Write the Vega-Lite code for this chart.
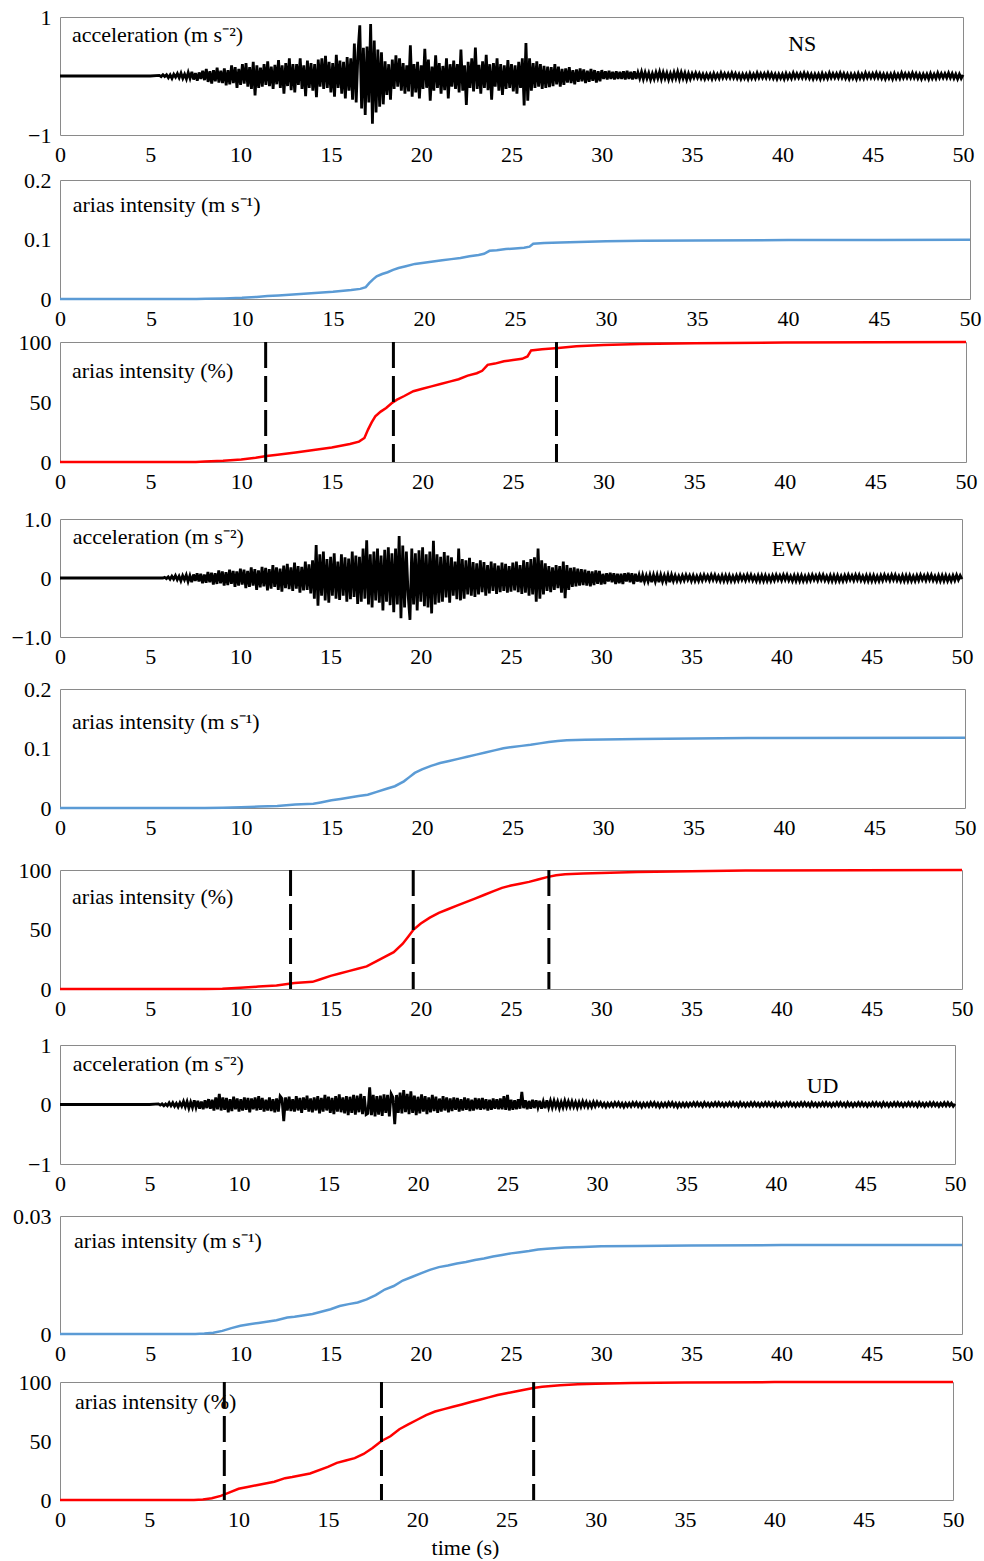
{
"$schema":"https://vega.github.io/schema/vega-lite/v6.json",
"background":"white",
"padding":{"left":0,"top":5,"right":0,"bottom":0},
"spacing":0,
"config":{
"view":{"stroke":"#8a8a8a","strokeWidth":1},
"font":"Liberation Serif",
"style":{"guide-label":{"font":"Liberation Serif"},"guide-title":{"font":"Liberation Serif"}},
"axis":{"labelFont":"Liberation Serif","labelFontSize":22,"labelColor":"black","grid":false,"domain":false,"ticks":false,"tickSize":0,"labelPadding":9,"titleFont":"Liberation Serif","titleFontSize":22,"titleFontWeight":"normal","titleColor":"black","labelFlush":false,"labelOverlap":false},
"text":{"font":"Liberation Serif","fontSize":22,"color":"black"}
},
"datasets":{
"acc":[
{"t":0,"n":0,"e":0,"u":0},{"t":5.0,"n":0,"e":0,"u":0},
{"t":5.5,"n":0.01,"e":0,"u":0.01},{"t":5.6,"n":-0.01,"e":0,"u":-0.01},{"t":5.7,"n":0.02,"e":0,"u":0.01},{"t":5.8,"n":-0.01,"e":0.01,"u":-0.02},{"t":5.9,"n":0.02,"e":-0.01,"u":0.01},
{"t":6.0,"n":-0.03,"e":0.02,"u":-0.02},{"t":6.1,"n":0.02,"e":-0.02,"u":0.03},{"t":6.2,"n":-0.04,"e":0.03,"u":-0.02},{"t":6.3,"n":0.03,"e":-0.02,"u":0.03},{"t":6.4,"n":-0.02,"e":0.04,"u":-0.03},{"t":6.5,"n":0.04,"e":-0.03,"u":0.02},{"t":6.6,"n":-0.03,"e":0.03,"u":-0.04},{"t":6.7,"n":0.05,"e":-0.05,"u":0.03},{"t":6.8,"n":-0.04,"e":0.04,"u":-0.03},{"t":6.9,"n":0.03,"e":-0.03,"u":0.05},
{"t":7.0,"n":-0.05,"e":0.05,"u":-0.04},{"t":7.1,"n":0.06,"e":-0.06,"u":0.05},{"t":7.2,"n":-0.04,"e":0.04,"u":-0.06},{"t":7.3,"n":0.07,"e":-0.07,"u":0.04},{"t":7.4,"n":-0.06,"e":0.06,"u":-0.05},{"t":7.5,"n":0.05,"e":-0.05,"u":0.07},{"t":7.6,"n":-0.08,"e":0.08,"u":-0.05},{"t":7.7,"n":0.06,"e":-0.06,"u":0.06},{"t":7.8,"n":-0.05,"e":0.07,"u":-0.07},{"t":7.9,"n":0.09,"e":-0.09,"u":0.05},
{"t":8.0,"n":-0.07,"e":0.06,"u":-0.08},{"t":8.1,"n":0.12,"e":-0.08,"u":0.07},{"t":8.2,"n":-0.1,"e":0.1,"u":-0.06},{"t":8.3,"n":0.08,"e":-0.07,"u":0.09},{"t":8.4,"n":-0.13,"e":0.09,"u":-0.07},{"t":8.5,"n":0.1,"e":-0.11,"u":0.08},{"t":8.6,"n":-0.09,"e":0.08,"u":-0.1},{"t":8.7,"n":0.14,"e":-0.1,"u":0.12},{"t":8.8,"n":-0.11,"e":0.13,"u":-0.08},{"t":8.9,"n":0.09,"e":-0.09,"u":0.18},
{"t":9.0,"n":-0.12,"e":0.11,"u":-0.1},{"t":9.1,"n":0.13,"e":-0.13,"u":0.12},{"t":9.2,"n":-0.16,"e":0.1,"u":-0.09},{"t":9.3,"n":0.1,"e":-0.12,"u":0.11},{"t":9.4,"n":-0.14,"e":0.14,"u":-0.13},{"t":9.5,"n":0.18,"e":-0.1,"u":0.09},{"t":9.6,"n":-0.12,"e":0.12,"u":-0.11},{"t":9.7,"n":0.15,"e":-0.15,"u":0.13},{"t":9.8,"n":-0.2,"e":0.11,"u":-0.08},{"t":9.9,"n":0.12,"e":-0.13,"u":0.1},
{"t":10.0,"n":-0.15,"e":0.16,"u":-0.12},{"t":10.1,"n":0.2,"e":-0.11,"u":0.09},{"t":10.2,"n":-0.13,"e":0.14,"u":-0.1},{"t":10.3,"n":0.22,"e":-0.17,"u":0.12},{"t":10.4,"n":-0.18,"e":0.12,"u":-0.09},{"t":10.5,"n":0.15,"e":-0.15,"u":0.11},{"t":10.6,"n":-0.22,"e":0.18,"u":-0.13},{"t":10.7,"n":0.24,"e":-0.13,"u":0.1},{"t":10.8,"n":-0.33,"e":0.15,"u":-0.08},{"t":10.9,"n":0.18,"e":-0.2,"u":0.12},
{"t":11.0,"n":-0.2,"e":0.13,"u":-0.1},{"t":11.1,"n":0.14,"e":-0.16,"u":0.14},{"t":11.2,"n":-0.18,"e":0.19,"u":-0.09},{"t":11.3,"n":0.2,"e":-0.14,"u":0.11},{"t":11.4,"n":-0.15,"e":0.17,"u":-0.12},{"t":11.5,"n":0.25,"e":-0.21,"u":0.08},{"t":11.6,"n":-0.17,"e":0.15,"u":-0.1},{"t":11.7,"n":0.16,"e":-0.18,"u":0.12},{"t":11.8,"n":-0.22,"e":0.22,"u":-0.11},{"t":11.9,"n":0.19,"e":-0.15,"u":0.09},
{"t":12.0,"n":-0.14,"e":0.18,"u":-0.13},{"t":12.1,"n":0.27,"e":-0.2,"u":0.1},{"t":12.2,"n":-0.2,"e":0.16,"u":-0.12},{"t":12.3,"n":0.18,"e":-0.23,"u":0.14},{"t":12.4,"n":-0.3,"e":0.21,"u":0.1},{"t":12.5,"n":0.22,"e":-0.17,"u":-0.28},{"t":12.6,"n":-0.17,"e":0.24,"u":0.12},{"t":12.7,"n":0.3,"e":-0.19,"u":-0.1},{"t":12.8,"n":-0.24,"e":0.18,"u":0.13},{"t":12.9,"n":0.2,"e":-0.22,"u":-0.11},
{"t":13.0,"n":-0.28,"e":0.26,"u":0.09},{"t":13.1,"n":0.2,"e":-0.18,"u":-0.12},{"t":13.2,"n":-0.15,"e":0.2,"u":0.14},{"t":13.3,"n":0.3,"e":-0.25,"u":-0.1},{"t":13.4,"n":-0.22,"e":0.19,"u":0.11},{"t":13.5,"n":0.18,"e":-0.21,"u":-0.14},{"t":13.6,"n":-0.34,"e":0.28,"u":0.12},{"t":13.7,"n":0.26,"e":-0.2,"u":-0.09},{"t":13.8,"n":-0.2,"e":0.23,"u":0.15},{"t":13.9,"n":0.22,"e":-0.26,"u":-0.12},
{"t":14.0,"n":-0.25,"e":0.3,"u":0.1},{"t":14.1,"n":0.2,"e":-0.35,"u":-0.13},{"t":14.2,"n":-0.36,"e":0.56,"u":0.12},{"t":14.3,"n":0.28,"e":-0.47,"u":-0.1},{"t":14.4,"n":-0.18,"e":0.4,"u":0.14},{"t":14.5,"n":0.3,"e":-0.3,"u":-0.15},{"t":14.6,"n":-0.22,"e":0.45,"u":0.11},{"t":14.7,"n":0.34,"e":-0.38,"u":-0.12},{"t":14.8,"n":-0.2,"e":0.32,"u":0.16},{"t":14.9,"n":0.24,"e":-0.42,"u":-0.1},
{"t":15.0,"n":-0.28,"e":0.36,"u":0.13},{"t":15.1,"n":0.22,"e":-0.3,"u":-0.14},{"t":15.2,"n":-0.35,"e":0.42,"u":0.11},{"t":15.3,"n":0.36,"e":-0.35,"u":-0.16},{"t":15.4,"n":-0.2,"e":0.28,"u":0.14},{"t":15.5,"n":0.26,"e":-0.37,"u":-0.12},{"t":15.6,"n":-0.3,"e":0.4,"u":0.17},{"t":15.7,"n":0.24,"e":-0.3,"u":-0.13},{"t":15.8,"n":-0.38,"e":0.35,"u":0.12},{"t":15.9,"n":0.32,"e":-0.4,"u":-0.15},
{"t":16.0,"n":-0.25,"e":0.33,"u":0.14},{"t":16.1,"n":0.3,"e":-0.36,"u":-0.18},{"t":16.2,"n":-0.4,"e":0.45,"u":0.13},{"t":16.3,"n":0.55,"e":-0.32,"u":-0.14},{"t":16.4,"n":-0.45,"e":0.38,"u":0.16},{"t":16.5,"n":0.4,"e":-0.44,"u":-0.17},{"t":16.6,"n":0.86,"e":0.36,"u":0.15},{"t":16.7,"n":-0.55,"e":-0.4,"u":-0.13},{"t":16.8,"n":0.48,"e":0.5,"u":0.18},{"t":16.9,"n":-0.66,"e":-0.35,"u":-0.16},
{"t":17.0,"n":0.5,"e":0.64,"u":0.14},{"t":17.1,"n":-0.45,"e":-0.45,"u":-0.17},{"t":17.2,"n":0.88,"e":0.4,"u":-0.15},{"t":17.3,"n":-0.81,"e":-0.5,"u":0.29},{"t":17.4,"n":0.6,"e":0.45,"u":-0.18},{"t":17.5,"n":-0.62,"e":-0.38,"u":0.16},{"t":17.6,"n":0.45,"e":0.5,"u":-0.2},{"t":17.7,"n":-0.52,"e":-0.42,"u":0.14},{"t":17.8,"n":0.4,"e":0.38,"u":-0.17},{"t":17.9,"n":-0.48,"e":-0.55,"u":0.15},
{"t":18.0,"n":0.25,"e":0.48,"u":-0.19},{"t":18.1,"n":-0.32,"e":-0.4,"u":0.17},{"t":18.2,"n":0.2,"e":0.52,"u":-0.14},{"t":18.3,"n":-0.4,"e":-0.46,"u":0.16},{"t":18.4,"n":0.28,"e":0.42,"u":-0.2},{"t":18.5,"n":-0.22,"e":-0.58,"u":0.18},{"t":18.6,"n":0.35,"e":0.5,"u":0.12},{"t":18.7,"n":-0.18,"e":-0.45,"u":-0.33},{"t":18.8,"n":0.3,"e":0.71,"u":0.16},{"t":18.9,"n":-0.25,"e":-0.68,"u":-0.14},
{"t":19.0,"n":0.22,"e":0.55,"u":0.2},{"t":19.1,"n":-0.3,"e":-0.5,"u":-0.15},{"t":19.2,"n":0.18,"e":0.45,"u":0.24},{"t":19.3,"n":-0.26,"e":-0.3,"u":-0.13},{"t":19.4,"n":0.52,"e":-0.71,"u":0.18},{"t":19.5,"n":-0.35,"e":0.5,"u":-0.16},{"t":19.6,"n":0.2,"e":-0.45,"u":0.22},{"t":19.7,"n":-0.28,"e":0.42,"u":-0.14},{"t":19.8,"n":0.24,"e":-0.55,"u":0.15},{"t":19.9,"n":-0.38,"e":0.47,"u":-0.18},
{"t":20.0,"n":0.18,"e":-0.4,"u":0.13},{"t":20.1,"n":-0.22,"e":0.52,"u":-0.15},{"t":20.2,"n":0.46,"e":-0.48,"u":0.17},{"t":20.3,"n":-0.2,"e":0.4,"u":-0.12},{"t":20.4,"n":0.28,"e":-0.5,"u":0.14},{"t":20.5,"n":-0.42,"e":0.45,"u":-0.16},{"t":20.6,"n":0.16,"e":-0.6,"u":0.12},{"t":20.7,"n":-0.25,"e":0.63,"u":-0.13},{"t":20.8,"n":0.35,"e":-0.45,"u":0.16},{"t":20.9,"n":-0.2,"e":0.4,"u":-0.11},
{"t":21.0,"n":0.22,"e":-0.42,"u":0.13},{"t":21.1,"n":-0.3,"e":0.36,"u":-0.14},{"t":21.2,"n":0.17,"e":-0.4,"u":0.1},{"t":21.3,"n":-0.24,"e":0.44,"u":-0.12},{"t":21.4,"n":0.3,"e":-0.33,"u":0.14},{"t":21.5,"n":-0.38,"e":0.38,"u":-0.1},{"t":21.6,"n":0.2,"e":-0.42,"u":0.12},{"t":21.7,"n":-0.18,"e":0.35,"u":-0.13},{"t":21.8,"n":0.26,"e":-0.3,"u":0.1},{"t":21.9,"n":-0.22,"e":0.28,"u":-0.11},
{"t":22.0,"n":0.2,"e":-0.36,"u":0.12},{"t":22.1,"n":-0.28,"e":0.5,"u":-0.09},{"t":22.2,"n":0.45,"e":-0.38,"u":0.11},{"t":22.3,"n":-0.25,"e":0.32,"u":-0.12},{"t":22.4,"n":0.18,"e":-0.35,"u":0.09},{"t":22.5,"n":-0.49,"e":0.3,"u":-0.1},{"t":22.6,"n":0.24,"e":-0.28,"u":0.12},{"t":22.7,"n":-0.2,"e":0.34,"u":-0.09},{"t":22.8,"n":0.3,"e":-0.3,"u":0.1},{"t":22.9,"n":-0.26,"e":0.27,"u":-0.11},
{"t":23.0,"n":0.48,"e":-0.32,"u":0.08},{"t":23.1,"n":-0.22,"e":0.25,"u":-0.1},{"t":23.2,"n":0.19,"e":-0.28,"u":0.11},{"t":23.3,"n":-0.3,"e":0.3,"u":-0.08},{"t":23.4,"n":0.25,"e":-0.24,"u":0.1},{"t":23.5,"n":-0.2,"e":0.27,"u":-0.09},{"t":23.6,"n":0.36,"e":-0.3,"u":0.11},{"t":23.7,"n":-0.24,"e":0.22,"u":-0.08},{"t":23.8,"n":0.2,"e":-0.26,"u":0.09},{"t":23.9,"n":-0.4,"e":0.28,"u":-0.1},
{"t":24.0,"n":0.22,"e":-0.22,"u":0.08},{"t":24.1,"n":-0.18,"e":0.25,"u":-0.09},{"t":24.2,"n":0.3,"e":-0.27,"u":0.1},{"t":24.3,"n":-0.25,"e":0.21,"u":-0.07},{"t":24.4,"n":0.2,"e":-0.24,"u":0.09},{"t":24.5,"n":-0.32,"e":0.26,"u":-0.08},{"t":24.6,"n":0.18,"e":-0.22,"u":0.1},{"t":24.7,"n":-0.22,"e":0.24,"u":-0.08},{"t":24.8,"n":0.27,"e":-0.25,"u":0.14},{"t":24.9,"n":-0.2,"e":0.2,"u":-0.09},
{"t":25.0,"n":0.2,"e":-0.23,"u":0.16},{"t":25.1,"n":-0.26,"e":0.26,"u":-0.1},{"t":25.2,"n":0.18,"e":-0.21,"u":0.08},{"t":25.3,"n":-0.3,"e":0.28,"u":-0.09},{"t":25.4,"n":0.24,"e":-0.24,"u":0.07},{"t":25.5,"n":-0.2,"e":0.22,"u":-0.08},{"t":25.6,"n":0.3,"e":-0.27,"u":0.09},{"t":25.7,"n":-0.5,"e":0.3,"u":-0.07},{"t":25.8,"n":0.56,"e":-0.25,"u":0.21},{"t":25.9,"n":-0.42,"e":0.27,"u":-0.06},
{"t":26.0,"n":0.3,"e":-0.3,"u":0.07},{"t":26.1,"n":-0.25,"e":0.32,"u":-0.08},{"t":26.2,"n":0.22,"e":-0.28,"u":0.06},{"t":26.3,"n":-0.2,"e":0.35,"u":-0.07},{"t":26.4,"n":0.25,"e":-0.4,"u":0.08},{"t":26.5,"n":-0.18,"e":0.5,"u":-0.06},{"t":26.6,"n":0.2,"e":-0.35,"u":0.07},{"t":26.7,"n":-0.22,"e":0.3,"u":-0.05},{"t":26.8,"n":0.17,"e":-0.28,"u":0.06},{"t":26.9,"n":-0.2,"e":0.25,"u":-0.07},
{"t":27.0,"n":0.16,"e":-0.22,"u":0.05},{"t":27.1,"n":-0.19,"e":0.2,"u":-0.06},{"t":27.2,"n":0.15,"e":-0.24,"u":0.07},{"t":27.3,"n":-0.17,"e":0.18,"u":-0.05},{"t":27.4,"n":0.2,"e":-0.2,"u":0.06},{"t":27.5,"n":-0.14,"e":0.22,"u":-0.05},{"t":27.6,"n":0.16,"e":-0.17,"u":0.06},{"t":27.7,"n":-0.18,"e":0.2,"u":-0.04},{"t":27.8,"n":0.12,"e":-0.25,"u":0.05},{"t":27.9,"n":-0.15,"e":0.28,"u":-0.06},
{"t":28.0,"n":0.13,"e":-0.34,"u":0.04},{"t":28.1,"n":-0.11,"e":0.22,"u":-0.05},{"t":28.2,"n":0.15,"e":-0.2,"u":0.06},{"t":28.3,"n":-0.12,"e":0.17,"u":-0.04},{"t":28.4,"n":0.1,"e":-0.15,"u":0.05},{"t":28.5,"n":-0.14,"e":0.18,"u":-0.04},{"t":28.6,"n":0.11,"e":-0.14,"u":0.05},{"t":28.7,"n":-0.1,"e":0.16,"u":-0.04},{"t":28.8,"n":0.13,"e":-0.13,"u":0.04},{"t":28.9,"n":-0.09,"e":0.15,"u":-0.05},
{"t":29.0,"n":0.11,"e":-0.12,"u":0.04},{"t":29.1,"n":-0.12,"e":0.14,"u":-0.04},{"t":29.2,"n":0.09,"e":-0.13,"u":0.05},{"t":29.3,"n":-0.1,"e":0.12,"u":-0.03},{"t":29.4,"n":0.12,"e":-0.14,"u":0.04},{"t":29.5,"n":-0.08,"e":0.11,"u":-0.04},{"t":29.6,"n":0.1,"e":-0.12,"u":0.03},{"t":29.7,"n":-0.11,"e":0.13,"u":-0.04},{"t":29.8,"n":0.08,"e":-0.1,"u":0.04},{"t":29.9,"n":-0.09,"e":0.12,"u":-0.03},
{"t":30.0,"n":0.1,"e":-0.11,"u":0.04},{"t":30.1,"n":-0.05,"e":0.07,"u":-0.02},{"t":30.2,"n":0.08,"e":-0.1,"u":0.03},{"t":30.3,"n":-0.06,"e":0.08,"u":-0.03},{"t":30.4,"n":0.09,"e":-0.06,"u":0.02},{"t":30.5,"n":-0.05,"e":0.09,"u":-0.04},{"t":30.6,"n":0.07,"e":-0.07,"u":0.02},{"t":30.7,"n":-0.06,"e":0.08,"u":-0.03},{"t":30.8,"n":0.08,"e":-0.1,"u":0.02},{"t":30.9,"n":-0.05,"e":0.07,"u":-0.03},
{"t":31.0,"n":0.07,"e":-0.09,"u":0.03},{"t":31.1,"n":-0.05,"e":0.07,"u":-0.02},{"t":31.2,"n":0.08,"e":-0.1,"u":0.03},{"t":31.3,"n":-0.06,"e":0.08,"u":-0.03},{"t":31.4,"n":0.09,"e":-0.06,"u":0.02},{"t":31.5,"n":-0.05,"e":0.09,"u":-0.04},{"t":31.6,"n":0.07,"e":-0.07,"u":0.02},{"t":31.7,"n":-0.06,"e":0.08,"u":-0.03},{"t":31.8,"n":0.08,"e":-0.1,"u":0.02},{"t":31.9,"n":-0.05,"e":0.07,"u":-0.03},
{"t":32.0,"n":0.06,"e":-0.06,"u":0.03},{"t":32.1,"n":-0.04,"e":0.05,"u":-0.02},{"t":32.2,"n":0.07,"e":-0.07,"u":0.03},{"t":32.3,"n":-0.05,"e":0.05,"u":-0.03},{"t":32.4,"n":0.06,"e":-0.06,"u":0.02},{"t":32.5,"n":-0.04,"e":0.04,"u":-0.04},{"t":32.6,"n":0.05,"e":-0.06,"u":0.02},{"t":32.7,"n":-0.06,"e":0.05,"u":-0.03},{"t":32.8,"n":0.04,"e":-0.07,"u":0.02},{"t":32.9,"n":-0.05,"e":0.05,"u":-0.03},
{"t":33.0,"n":0.06,"e":-0.06,"u":0.03},{"t":33.1,"n":-0.04,"e":0.05,"u":-0.02},{"t":33.2,"n":0.07,"e":-0.07,"u":0.03},{"t":33.3,"n":-0.05,"e":0.05,"u":-0.03},{"t":33.4,"n":0.06,"e":-0.06,"u":0.02},{"t":33.5,"n":-0.04,"e":0.04,"u":-0.04},{"t":33.6,"n":0.05,"e":-0.06,"u":0.02},{"t":33.7,"n":-0.06,"e":0.05,"u":-0.03},{"t":33.8,"n":0.04,"e":-0.07,"u":0.02},{"t":33.9,"n":-0.05,"e":0.05,"u":-0.03},
{"t":34.0,"n":0.06,"e":-0.05,"u":0.03},{"t":34.1,"n":-0.04,"e":0.04,"u":-0.02},{"t":34.2,"n":0.07,"e":-0.05,"u":0.03},{"t":34.3,"n":-0.05,"e":0.03,"u":-0.03},{"t":34.4,"n":0.06,"e":-0.05,"u":0.02},{"t":34.5,"n":-0.04,"e":0.04,"u":-0.04},{"t":34.6,"n":0.05,"e":-0.04,"u":0.02},{"t":34.7,"n":-0.06,"e":0.05,"u":-0.03},{"t":34.8,"n":0.04,"e":-0.03,"u":0.02},{"t":34.9,"n":-0.05,"e":0.04,"u":-0.03},
{"t":35.0,"n":0.04,"e":-0.05,"u":0.02},{"t":35.1,"n":-0.03,"e":0.04,"u":-0.03},{"t":35.2,"n":0.05,"e":-0.05,"u":0.02},{"t":35.3,"n":-0.03,"e":0.03,"u":-0.02},{"t":35.4,"n":0.04,"e":-0.05,"u":0.03},{"t":35.5,"n":-0.04,"e":0.04,"u":-0.02},{"t":35.6,"n":0.03,"e":-0.04,"u":0.03},{"t":35.7,"n":-0.05,"e":0.05,"u":-0.02},{"t":35.8,"n":0.03,"e":-0.03,"u":0.02},{"t":35.9,"n":-0.04,"e":0.04,"u":-0.03},
{"t":36.0,"n":0.03,"e":-0.04,"u":0.03},{"t":36.1,"n":-0.05,"e":0.05,"u":-0.02},{"t":36.2,"n":0.04,"e":-0.03,"u":0.02},{"t":36.3,"n":-0.04,"e":0.05,"u":-0.03},{"t":36.4,"n":0.03,"e":-0.04,"u":0.02},{"t":36.5,"n":-0.04,"e":0.03,"u":-0.02},{"t":36.6,"n":0.05,"e":-0.05,"u":0.03},{"t":36.7,"n":-0.03,"e":0.04,"u":-0.02},{"t":36.8,"n":0.04,"e":-0.05,"u":0.03},{"t":36.9,"n":-0.03,"e":0.04,"u":-0.02},
{"t":37.0,"n":0.04,"e":-0.05,"u":0.02},{"t":37.1,"n":-0.03,"e":0.04,"u":-0.03},{"t":37.2,"n":0.05,"e":-0.05,"u":0.02},{"t":37.3,"n":-0.03,"e":0.03,"u":-0.02},{"t":37.4,"n":0.04,"e":-0.05,"u":0.03},{"t":37.5,"n":-0.04,"e":0.04,"u":-0.02},{"t":37.6,"n":0.03,"e":-0.04,"u":0.03},{"t":37.7,"n":-0.05,"e":0.05,"u":-0.02},{"t":37.8,"n":0.03,"e":-0.03,"u":0.02},{"t":37.9,"n":-0.04,"e":0.04,"u":-0.03},
{"t":38.0,"n":0.03,"e":-0.04,"u":0.03},{"t":38.1,"n":-0.05,"e":0.05,"u":-0.02},{"t":38.2,"n":0.04,"e":-0.03,"u":0.02},{"t":38.3,"n":-0.04,"e":0.05,"u":-0.03},{"t":38.4,"n":0.03,"e":-0.04,"u":0.02},{"t":38.5,"n":-0.04,"e":0.03,"u":-0.02},{"t":38.6,"n":0.05,"e":-0.05,"u":0.03},{"t":38.7,"n":-0.03,"e":0.04,"u":-0.02},{"t":38.8,"n":0.04,"e":-0.05,"u":0.03},{"t":38.9,"n":-0.03,"e":0.04,"u":-0.02},
{"t":39.0,"n":0.04,"e":-0.05,"u":0.02},{"t":39.1,"n":-0.03,"e":0.04,"u":-0.03},{"t":39.2,"n":0.05,"e":-0.05,"u":0.02},{"t":39.3,"n":-0.03,"e":0.03,"u":-0.02},{"t":39.4,"n":0.04,"e":-0.05,"u":0.03},{"t":39.5,"n":-0.04,"e":0.04,"u":-0.02},{"t":39.6,"n":0.03,"e":-0.04,"u":0.03},{"t":39.7,"n":-0.05,"e":0.05,"u":-0.02},{"t":39.8,"n":0.03,"e":-0.03,"u":0.02},{"t":39.9,"n":-0.04,"e":0.04,"u":-0.03},
{"t":40.0,"n":0.03,"e":-0.04,"u":0.03},{"t":40.1,"n":-0.05,"e":0.05,"u":-0.02},{"t":40.2,"n":0.04,"e":-0.03,"u":0.02},{"t":40.3,"n":-0.04,"e":0.05,"u":-0.03},{"t":40.4,"n":0.03,"e":-0.04,"u":0.02},{"t":40.5,"n":-0.04,"e":0.03,"u":-0.02},{"t":40.6,"n":0.05,"e":-0.05,"u":0.03},{"t":40.7,"n":-0.03,"e":0.04,"u":-0.02},{"t":40.8,"n":0.04,"e":-0.05,"u":0.03},{"t":40.9,"n":-0.03,"e":0.04,"u":-0.02},
{"t":41.0,"n":0.04,"e":-0.05,"u":0.02},{"t":41.1,"n":-0.03,"e":0.04,"u":-0.03},{"t":41.2,"n":0.05,"e":-0.05,"u":0.02},{"t":41.3,"n":-0.03,"e":0.03,"u":-0.02},{"t":41.4,"n":0.04,"e":-0.05,"u":0.03},{"t":41.5,"n":-0.04,"e":0.04,"u":-0.02},{"t":41.6,"n":0.03,"e":-0.04,"u":0.03},{"t":41.7,"n":-0.05,"e":0.05,"u":-0.02},{"t":41.8,"n":0.03,"e":-0.03,"u":0.02},{"t":41.9,"n":-0.04,"e":0.04,"u":-0.03},
{"t":42.0,"n":0.03,"e":-0.04,"u":0.03},{"t":42.1,"n":-0.05,"e":0.05,"u":-0.02},{"t":42.2,"n":0.04,"e":-0.03,"u":0.02},{"t":42.3,"n":-0.04,"e":0.05,"u":-0.03},{"t":42.4,"n":0.03,"e":-0.04,"u":0.02},{"t":42.5,"n":-0.04,"e":0.03,"u":-0.02},{"t":42.6,"n":0.05,"e":-0.05,"u":0.03},{"t":42.7,"n":-0.03,"e":0.04,"u":-0.02},{"t":42.8,"n":0.04,"e":-0.05,"u":0.03},{"t":42.9,"n":-0.03,"e":0.04,"u":-0.02},
{"t":43.0,"n":0.04,"e":-0.05,"u":0.02},{"t":43.1,"n":-0.03,"e":0.04,"u":-0.03},{"t":43.2,"n":0.05,"e":-0.05,"u":0.02},{"t":43.3,"n":-0.03,"e":0.03,"u":-0.02},{"t":43.4,"n":0.04,"e":-0.05,"u":0.03},{"t":43.5,"n":-0.04,"e":0.04,"u":-0.02},{"t":43.6,"n":0.03,"e":-0.04,"u":0.03},{"t":43.7,"n":-0.05,"e":0.05,"u":-0.02},{"t":43.8,"n":0.03,"e":-0.03,"u":0.02},{"t":43.9,"n":-0.04,"e":0.04,"u":-0.03},
{"t":44.0,"n":0.03,"e":-0.04,"u":0.03},{"t":44.1,"n":-0.05,"e":0.05,"u":-0.02},{"t":44.2,"n":0.04,"e":-0.03,"u":0.02},{"t":44.3,"n":-0.04,"e":0.05,"u":-0.03},{"t":44.4,"n":0.03,"e":-0.04,"u":0.02},{"t":44.5,"n":-0.04,"e":0.03,"u":-0.02},{"t":44.6,"n":0.05,"e":-0.05,"u":0.03},{"t":44.7,"n":-0.03,"e":0.04,"u":-0.02},{"t":44.8,"n":0.04,"e":-0.05,"u":0.03},{"t":44.9,"n":-0.03,"e":0.04,"u":-0.02},
{"t":45.0,"n":0.04,"e":-0.05,"u":0.02},{"t":45.1,"n":-0.03,"e":0.04,"u":-0.03},{"t":45.2,"n":0.05,"e":-0.05,"u":0.02},{"t":45.3,"n":-0.03,"e":0.03,"u":-0.02},{"t":45.4,"n":0.04,"e":-0.05,"u":0.03},{"t":45.5,"n":-0.04,"e":0.04,"u":-0.02},{"t":45.6,"n":0.03,"e":-0.04,"u":0.03},{"t":45.7,"n":-0.05,"e":0.05,"u":-0.02},{"t":45.8,"n":0.03,"e":-0.03,"u":0.02},{"t":45.9,"n":-0.04,"e":0.04,"u":-0.03},
{"t":46.0,"n":0.03,"e":-0.04,"u":0.03},{"t":46.1,"n":-0.05,"e":0.05,"u":-0.02},{"t":46.2,"n":0.04,"e":-0.03,"u":0.02},{"t":46.3,"n":-0.04,"e":0.05,"u":-0.03},{"t":46.4,"n":0.03,"e":-0.04,"u":0.02},{"t":46.5,"n":-0.04,"e":0.03,"u":-0.02},{"t":46.6,"n":0.05,"e":-0.05,"u":0.03},{"t":46.7,"n":-0.03,"e":0.04,"u":-0.02},{"t":46.8,"n":0.04,"e":-0.05,"u":0.03},{"t":46.9,"n":-0.03,"e":0.04,"u":-0.02},
{"t":47.0,"n":0.04,"e":-0.05,"u":0.02},{"t":47.1,"n":-0.03,"e":0.04,"u":-0.03},{"t":47.2,"n":0.05,"e":-0.05,"u":0.02},{"t":47.3,"n":-0.03,"e":0.03,"u":-0.02},{"t":47.4,"n":0.04,"e":-0.05,"u":0.03},{"t":47.5,"n":-0.04,"e":0.04,"u":-0.02},{"t":47.6,"n":0.03,"e":-0.04,"u":0.03},{"t":47.7,"n":-0.05,"e":0.05,"u":-0.02},{"t":47.8,"n":0.03,"e":-0.03,"u":0.02},{"t":47.9,"n":-0.04,"e":0.04,"u":-0.03},
{"t":48.0,"n":0.03,"e":-0.04,"u":0.03},{"t":48.1,"n":-0.05,"e":0.05,"u":-0.02},{"t":48.2,"n":0.04,"e":-0.03,"u":0.02},{"t":48.3,"n":-0.04,"e":0.05,"u":-0.03},{"t":48.4,"n":0.03,"e":-0.04,"u":0.02},{"t":48.5,"n":-0.04,"e":0.03,"u":-0.02},{"t":48.6,"n":0.05,"e":-0.05,"u":0.03},{"t":48.7,"n":-0.03,"e":0.04,"u":-0.02},{"t":48.8,"n":0.04,"e":-0.05,"u":0.03},{"t":48.9,"n":-0.03,"e":0.04,"u":-0.02},
{"t":49.0,"n":0.04,"e":-0.05,"u":0.02},{"t":49.1,"n":-0.03,"e":0.04,"u":-0.03},{"t":49.2,"n":0.05,"e":-0.05,"u":0.02},{"t":49.3,"n":-0.03,"e":0.03,"u":-0.02},{"t":49.4,"n":0.04,"e":-0.05,"u":0.03},{"t":49.5,"n":-0.04,"e":0.04,"u":-0.02},{"t":49.6,"n":0.03,"e":-0.04,"u":0.03},{"t":49.7,"n":-0.05,"e":0.05,"u":-0.02},{"t":49.8,"n":0.03,"e":-0.03,"u":0.02},{"t":49.9,"n":-0.04,"e":0.04,"u":-0.03},
{"t":50.0,"n":0.02,"e":-0.02,"u":0.01}
],
"ns":[
{"t":0,"v":0,"p":0},{"t":7.5,"v":0,"p":0},{"t":8,"v":0.0005,"p":0.5},{"t":9,"v":0.001,"p":1},{"t":10,"v":0.002,"p":2},{"t":10.8,"v":0.0035,"p":3.5},{"t":11.4,"v":0.005,"p":5},{"t":12,"v":0.006,"p":6},{"t":13,"v":0.008,"p":8},{"t":14,"v":0.01,"p":10},{"t":15,"v":0.012,"p":12},{"t":16,"v":0.015,"p":15},{"t":16.5,"v":0.017,"p":17},{"t":16.8,"v":0.02,"p":20},{"t":17.0,"v":0.027,"p":27},{"t":17.2,"v":0.033,"p":33},{"t":17.4,"v":0.038,"p":38},{"t":17.7,"v":0.042,"p":42},{"t":18.0,"v":0.045,"p":45},{"t":18.3,"v":0.049,"p":49},{"t":18.6,"v":0.052,"p":52},{"t":19.0,"v":0.055,"p":55},{"t":19.5,"v":0.059,"p":59},{"t":20.0,"v":0.061,"p":61},{"t":20.5,"v":0.063,"p":63},{"t":21.0,"v":0.065,"p":65},{"t":21.5,"v":0.067,"p":67},{"t":22.0,"v":0.069,"p":69},{"t":22.5,"v":0.072,"p":72},{"t":23.0,"v":0.074,"p":74},{"t":23.3,"v":0.076,"p":76},{"t":23.6,"v":0.081,"p":81},{"t":24.0,"v":0.082,"p":82},{"t":24.5,"v":0.084,"p":84},{"t":25.0,"v":0.085,"p":85},{"t":25.5,"v":0.086,"p":86},{"t":25.8,"v":0.088,"p":88},{"t":26.0,"v":0.093,"p":93},{"t":26.6,"v":0.094,"p":94},{"t":27.5,"v":0.095,"p":95},{"t":28.5,"v":0.096,"p":96.5},{"t":30,"v":0.097,"p":97.5},{"t":32,"v":0.098,"p":98.3},{"t":35,"v":0.0985,"p":99},{"t":40,"v":0.099,"p":99.5},{"t":45,"v":0.0993,"p":99.8},{"t":50,"v":0.0995,"p":100}
],
"ew":[
{"t":0,"v":0,"p":0},{"t":8,"v":0,"p":0},{"t":9,"v":0.0004,"p":0.3},{"t":10,"v":0.0012,"p":1},{"t":11,"v":0.0024,"p":2},{"t":12,"v":0.0035,"p":3},{"t":13,"v":0.0059,"p":5},{"t":14,"v":0.0071,"p":6},{"t":14.4,"v":0.0094,"p":8},{"t":15,"v":0.013,"p":11},{"t":15.5,"v":0.0153,"p":13},{"t":16,"v":0.0177,"p":15},{"t":16.5,"v":0.0201,"p":17},{"t":17,"v":0.0224,"p":19},{"t":17.5,"v":0.0271,"p":23},{"t":18,"v":0.0319,"p":27},{"t":18.5,"v":0.0366,"p":31},{"t":19,"v":0.0448,"p":38},{"t":19.3,"v":0.0519,"p":44},{"t":19.6,"v":0.059,"p":50},{"t":20,"v":0.0649,"p":55},{"t":20.5,"v":0.0708,"p":60},{"t":21,"v":0.0755,"p":64},{"t":21.5,"v":0.0791,"p":67},{"t":22,"v":0.0826,"p":70},{"t":22.5,"v":0.0861,"p":73},{"t":23,"v":0.0897,"p":76},{"t":23.5,"v":0.0932,"p":79},{"t":24,"v":0.0968,"p":82},{"t":24.5,"v":0.1003,"p":85},{"t":25,"v":0.1027,"p":87},{"t":25.5,"v":0.1044,"p":88.5},{"t":26,"v":0.1062,"p":90},{"t":26.5,"v":0.1086,"p":92},{"t":27,"v":0.1109,"p":94},{"t":27.5,"v":0.1127,"p":95.5},{"t":28,"v":0.1139,"p":96.5},{"t":29,"v":0.1145,"p":97},{"t":30,"v":0.1151,"p":97.5},{"t":32,"v":0.116,"p":98.3},{"t":35,"v":0.1168,"p":99},{"t":38,"v":0.1175,"p":99.6},{"t":50,"v":0.118,"p":100}
],
"ud":[
{"t":0,"v":0,"p":0},{"t":7.5,"v":0,"p":0},{"t":8,"v":0.0001,"p":0.5},{"t":8.5,"v":0.0003,"p":1.5},{"t":9,"v":0.0008,"p":3.5},{"t":9.5,"v":0.0015,"p":6.5},{"t":10,"v":0.0021,"p":9.5},{"t":10.5,"v":0.0025,"p":11},{"t":11,"v":0.0028,"p":12.5},{"t":12,"v":0.0035,"p":15.5},{"t":12.6,"v":0.0042,"p":18.5},{"t":13,"v":0.0044,"p":19.5},{"t":14,"v":0.0051,"p":22.5},{"t":15,"v":0.0063,"p":28},{"t":15.5,"v":0.0071,"p":31.5},{"t":16,"v":0.0076,"p":33.5},{"t":16.5,"v":0.008,"p":35.5},{"t":17,"v":0.0088,"p":39},{"t":17.5,"v":0.0099,"p":44},{"t":18,"v":0.0113,"p":50},{"t":18.5,"v":0.0122,"p":54},{"t":19,"v":0.0136,"p":60},{"t":19.5,"v":0.0145,"p":64},{"t":20,"v":0.0154,"p":68},{"t":20.5,"v":0.0163,"p":72},{"t":21,"v":0.017,"p":75},{"t":21.5,"v":0.0174,"p":77},{"t":22,"v":0.0179,"p":79},{"t":22.5,"v":0.0183,"p":81},{"t":23,"v":0.0188,"p":83},{"t":23.5,"v":0.0192,"p":85},{"t":24,"v":0.0197,"p":87},{"t":24.5,"v":0.0201,"p":89},{"t":25,"v":0.0205,"p":90.5},{"t":25.5,"v":0.0208,"p":92},{"t":26,"v":0.0211,"p":93.5},{"t":26.5,"v":0.0215,"p":95},{"t":27,"v":0.0217,"p":96},{"t":28,"v":0.022,"p":97.3},{"t":29,"v":0.0221,"p":98},{"t":30,"v":0.0223,"p":98.6},{"t":32,"v":0.0224,"p":99.1},{"t":35,"v":0.0225,"p":99.6},{"t":40,"v":0.0226,"p":99.9},{"t":50,"v":0.0226,"p":100}
]
},
"vconcat":[
{"width":903,"height":118,"layer":[
{"data":{"name":"acc"},"mark":{"type":"line","color":"black","strokeWidth":2.8},"encoding":{
"x":{"field":"t","type":"quantitative","scale":{"domain":[0,50],"nice":false},"axis":{"values":[0,5,10,15,20,25,30,35,40,45,50],"format":"d","title":null,"minExtent":32}},
"y":{"field":"n","type":"quantitative","scale":{"domain":[-1,1],"nice":false},"axis":{"values":[-1,1],"format":"~g","title":null,"minExtent":59}}}},
{"data":{"values":[{"s":"acceleration (m s⁻²)"}]},"mark":{"type":"text","align":"left","baseline":"middle"},"encoding":{"x":{"datum":0.66},"y":{"datum":0.7},"text":{"field":"s"}}},
{"data":{"values":[{"s":"NS"}]},"mark":{"type":"text","align":"center","baseline":"middle"},"encoding":{"x":{"datum":41.1},"y":{"datum":0.55},"text":{"field":"s"}}}
]},
{"width":910,"height":119,"layer":[
{"data":{"name":"ns"},"mark":{"type":"line","color":"#5B9BD5","strokeWidth":2.5},"encoding":{
"x":{"field":"t","type":"quantitative","scale":{"domain":[0,50],"nice":false},"axis":{"values":[0,5,10,15,20,25,30,35,40,45,50],"format":"d","title":null,"minExtent":29}},
"y":{"field":"v","type":"quantitative","scale":{"domain":[0,0.2],"nice":false},"axis":{"values":[0,0.1,0.2],"format":"~g","title":null,"minExtent":59}}}},
{"data":{"values":[{"s":"arias intensity (m s⁻¹)"}]},"mark":{"type":"text","align":"left","baseline":"middle"},"encoding":{"x":{"datum":0.7},"y":{"datum":0.158},"text":{"field":"s"}}}
]},
{"width":906,"height":120,"layer":[
{"data":{"name":"ns"},"mark":{"type":"line","color":"#FF0000","strokeWidth":2.5},"encoding":{
"x":{"field":"t","type":"quantitative","scale":{"domain":[0,50],"nice":false},"axis":{"values":[0,5,10,15,20,25,30,35,40,45,50],"format":"d","title":null,"minExtent":44}},
"y":{"field":"p","type":"quantitative","scale":{"domain":[0,100],"nice":false},"axis":{"values":[0,50,100],"format":"d","title":null,"minExtent":59}}}},
{"data":{"values":[{"t":11.35},{"t":18.4},{"t":27.4}]},"mark":{"type":"rule","color":"black","strokeWidth":3,"strokeDash":[26,8]},"encoding":{"x":{"field":"t","type":"quantitative"}}},
{"data":{"values":[{"s":"arias intensity (%)"}]},"mark":{"type":"text","align":"left","baseline":"middle"},"encoding":{"x":{"datum":0.66},"y":{"datum":76},"text":{"field":"s"}}}
]},
{"width":902,"height":118,"layer":[
{"data":{"name":"acc"},"mark":{"type":"line","color":"black","strokeWidth":2.8},"encoding":{
"x":{"field":"t","type":"quantitative","scale":{"domain":[0,50],"nice":false},"axis":{"values":[0,5,10,15,20,25,30,35,40,45,50],"format":"d","title":null,"minExtent":39}},
"y":{"field":"e","type":"quantitative","scale":{"domain":[-1,1],"nice":false},"axis":{"values":[-1,-0.5,0,0.5,1],"labelExpr":"datum.value === 0 ? '0' : format(datum.value, '.1f')","title":null,"minExtent":59}}}},
{"data":{"values":[{"s":"acceleration (m s⁻²)"}]},"mark":{"type":"text","align":"left","baseline":"middle"},"encoding":{"x":{"datum":0.7},"y":{"datum":0.69},"text":{"field":"s"}}},
{"data":{"values":[{"s":"EW"}]},"mark":{"type":"text","align":"center","baseline":"middle"},"encoding":{"x":{"datum":40.4},"y":{"datum":0.5},"text":{"field":"s"}}}
]},
{"width":905,"height":119,"layer":[
{"data":{"name":"ew"},"mark":{"type":"line","color":"#5B9BD5","strokeWidth":2.5},"encoding":{
"x":{"field":"t","type":"quantitative","scale":{"domain":[0,50],"nice":false},"axis":{"values":[0,5,10,15,20,25,30,35,40,45,50],"format":"d","title":null,"minExtent":49}},
"y":{"field":"v","type":"quantitative","scale":{"domain":[0,0.2],"nice":false},"axis":{"values":[0,0.1,0.2],"format":"~g","title":null,"minExtent":59}}}},
{"data":{"values":[{"s":"arias intensity (m s⁻¹)"}]},"mark":{"type":"text","align":"left","baseline":"middle"},"encoding":{"x":{"datum":0.66},"y":{"datum":0.145},"text":{"field":"s"}}}
]},
{"width":902,"height":119,"layer":[
{"data":{"name":"ew"},"mark":{"type":"line","color":"#FF0000","strokeWidth":2.5},"encoding":{
"x":{"field":"t","type":"quantitative","scale":{"domain":[0,50],"nice":false},"axis":{"values":[0,5,10,15,20,25,30,35,40,45,50],"format":"d","title":null,"minExtent":43}},
"y":{"field":"p","type":"quantitative","scale":{"domain":[0,100],"nice":false},"axis":{"values":[0,50,100],"format":"d","title":null,"minExtent":59}}}},
{"data":{"values":[{"t":12.78},{"t":19.58},{"t":27.1}]},"mark":{"type":"rule","color":"black","strokeWidth":3,"strokeDash":[26,8]},"encoding":{"x":{"field":"t","type":"quantitative"}}},
{"data":{"values":[{"s":"arias intensity (%)"}]},"mark":{"type":"text","align":"left","baseline":"middle"},"encoding":{"x":{"datum":0.67},"y":{"datum":77},"text":{"field":"s"}}}
]},
{"width":895,"height":119,"layer":[
{"data":{"name":"acc"},"mark":{"type":"line","color":"black","strokeWidth":2.8},"encoding":{
"x":{"field":"t","type":"quantitative","scale":{"domain":[0,50],"nice":false},"axis":{"values":[0,5,10,15,20,25,30,35,40,45,50],"format":"d","title":null,"minExtent":39}},
"y":{"field":"u","type":"quantitative","scale":{"domain":[-1,1],"nice":false},"axis":{"values":[-1,0,1],"format":"~g","title":null,"minExtent":59}}}},
{"data":{"values":[{"s":"acceleration (m s⁻²)"}]},"mark":{"type":"text","align":"left","baseline":"middle"},"encoding":{"x":{"datum":0.71},"y":{"datum":0.68},"text":{"field":"s"}}},
{"data":{"values":[{"s":"UD"}]},"mark":{"type":"text","align":"center","baseline":"middle"},"encoding":{"x":{"datum":42.6},"y":{"datum":0.31},"text":{"field":"s"}}}
]},
{"width":902,"height":118,"layer":[
{"data":{"name":"ud"},"mark":{"type":"line","color":"#5B9BD5","strokeWidth":2.5},"encoding":{
"x":{"field":"t","type":"quantitative","scale":{"domain":[0,50],"nice":false},"axis":{"values":[0,5,10,15,20,25,30,35,40,45,50],"format":"d","title":null,"minExtent":35}},
"y":{"field":"v","type":"quantitative","scale":{"domain":[0,0.03],"nice":false},"axis":{"values":[0,0.01,0.02,0.03],"format":"~g","title":null,"minExtent":59}}}},
{"data":{"values":[{"s":"arias intensity (m s⁻¹)"}]},"mark":{"type":"text","align":"left","baseline":"middle"},"encoding":{"x":{"datum":0.78},"y":{"datum":0.0236},"text":{"field":"s"}}}
]},
{"width":893,"height":118,"layer":[
{"data":{"name":"ud"},"mark":{"type":"line","color":"#FF0000","strokeWidth":2.5},"encoding":{
"x":{"field":"t","type":"quantitative","scale":{"domain":[0,50],"nice":false},"axis":{"values":[0,5,10,15,20,25,30,35,40,45,50],"format":"d","title":"time (s)","titlePadding":7,"titleX":405}},
"y":{"field":"p","type":"quantitative","scale":{"domain":[0,100],"nice":false},"axis":{"values":[0,50,100],"format":"d","title":null,"minExtent":59}}}},
{"data":{"values":[{"t":9.2},{"t":18.0},{"t":26.52}]},"mark":{"type":"rule","color":"black","strokeWidth":3,"strokeDash":[26,8]},"encoding":{"x":{"field":"t","type":"quantitative"}}},
{"data":{"values":[{"s":"arias intensity (%)"}]},"mark":{"type":"text","align":"left","baseline":"middle"},"encoding":{"x":{"datum":0.84},"y":{"datum":83},"text":{"field":"s"}}}
]}
]
}
